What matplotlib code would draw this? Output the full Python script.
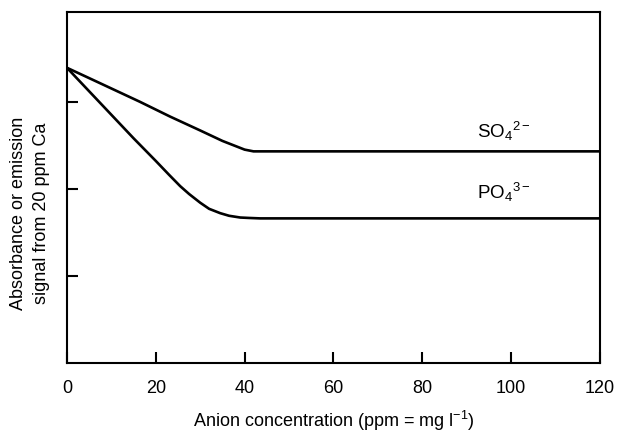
import matplotlib
matplotlib.use('Agg')
import matplotlib.pyplot as plt

plt.rcParams['font.family'] = ['Liberation Sans', 'DejaVu Sans']
plt.rcParams['mathtext.fontset'] = 'custom'
plt.rcParams['mathtext.rm'] = 'Liberation Sans'
plt.rcParams['mathtext.it'] = 'Liberation Sans'

# values
so4_x = [0, 5.9, 16.4, 23.2, 30, 35, 38, 40, 42, 120]
so4_y = [3.39, 3.25, 3.00, 2.83, 2.67, 2.55, 2.49, 2.45, 2.43, 2.43]
po4_x = [0, 5, 10, 15, 20, 23, 25.5, 27.5, 30, 32, 34.5, 36.5, 39, 41, 43.5, 120]
po4_y = [3.39, 3.12, 2.85, 2.58, 2.32, 2.16, 2.03, 1.94, 1.84, 1.77, 1.72, 1.69, 1.67, 1.665, 1.66, 1.66]
x_ticks = [0, 20, 40, 60, 80, 100, 120]
y_ticks = [1, 2, 3]

fig = plt.figure(figsize=(6.23, 4.32), dpi=100)
ax = fig.add_axes([0.1075, 0.16, 0.8555, 0.812])

ax.plot(so4_x, so4_y, color='black', lw=1.9, solid_joinstyle='round')
ax.plot(po4_x, po4_y, color='black', lw=1.9, solid_joinstyle='round')

ax.set_xlim(0, 120)
ax.set_ylim(0, 4.03)
ax.set_xticks(x_ticks)
ax.set_yticks(y_ticks)
ax.set_yticklabels([])
ax.tick_params(direction='in', length=8, width=1.5, labelsize=13, colors='black')
ax.tick_params(axis='x', pad=12)
for s in ax.spines.values():
    s.set_linewidth(1.5)

ax.text(92.3, 2.655, r'SO$_4$$^{2-}$', fontsize=13.5, ha='left', va='center')
ax.text(92.3, 1.954, r'PO$_4$$^{3-}$', fontsize=13.5, ha='left', va='center')

ax.set_xlabel(r'Anion concentration (ppm = mg l$^{-1}$)', fontsize=13, labelpad=9)
fig.text(0.048, 0.507, 'Absorbance or emission\nsignal from 20 ppm Ca', fontsize=13,
         rotation=90, ha='center', va='center', multialignment='center', linespacing=1.4)

fig.savefig('out.png', dpi=100)
